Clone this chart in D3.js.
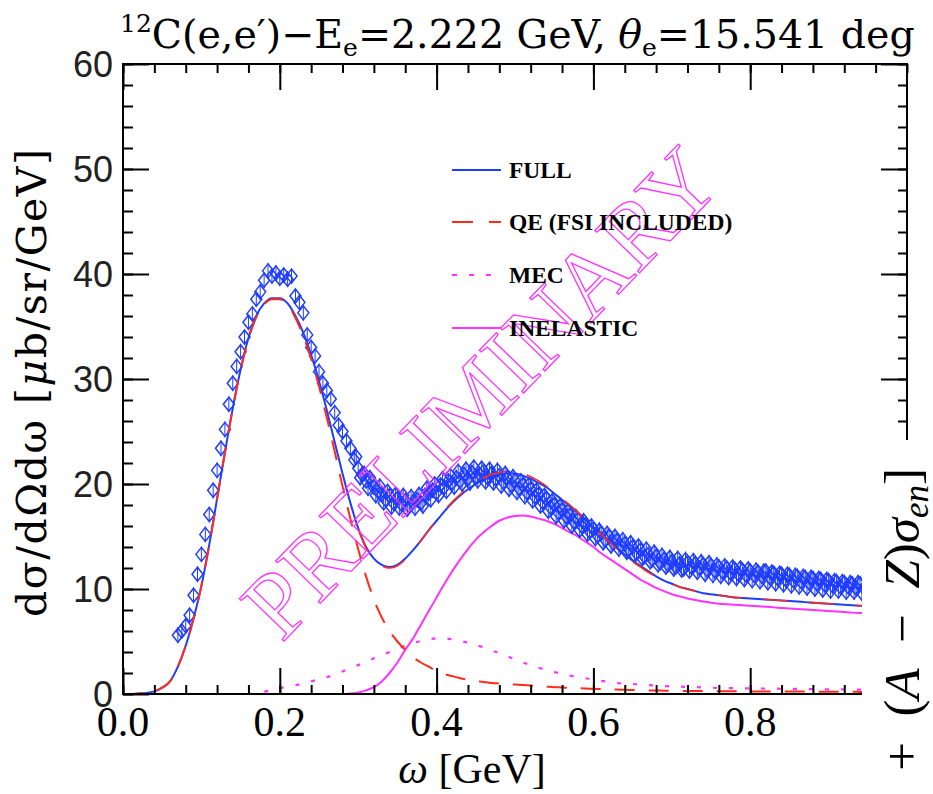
<!DOCTYPE html>
<html><head><meta charset="utf-8">
<script src="https://cdn.jsdelivr.net/npm/d3@7"></script>
<style>body{margin:0;background:#fff}svg{display:block}</style>
</head><body>
<svg id="c" width="933" height="794"></svg>
<script>
// ---- data ----
const curveOmega = d3.range(0, 96).map(i => +(i * 0.01).toFixed(2)); // 0.00..0.95 GeV grid of the theory curves
const fullCurve = [0,0,0.05,0.1,0.25,0.6,1.2,2.6,4.6,7.2,10.3,14.2,18.6,23.0,27.2,30.9,33.9,36.0,37.2,37.7,37.7,37.2,36.0,34.4,32.3,29.8,27.0,24.0,21.0,18.2,15.8,14.0,12.9,12.3,12.1,12.3,12.9,13.7,14.6,15.6,16.5,17.4,18.2,18.9,19.5,20.0,20.4,20.7,20.9,21.0,21.0,20.8,20.5,20.1,19.7,19.1,18.5,17.9,17.3,16.6,15.9,15.2,14.6,13.9,13.3,12.7,12.2,11.7,11.2,10.8,10.5,10.2,10.0,9.8,9.6,9.5,9.4,9.3,9.2,9.15,9.1,9.05,9.0,8.95,8.9,8.85,8.8,8.75,8.7,8.65,8.6,8.55,8.5,8.45,8.4,8.35];
const qeCurve = [0,0,0.05,0.1,0.25,0.6,1.2,2.6,4.6,7.2,10.3,14.2,18.6,23.0,27.2,30.9,33.8,35.9,37.1,37.6,37.6,37.1,35.8,34.1,31.9,29.3,26.3,23.1,19.8,16.7,13.8,11.2,9.0,7.3,6.0,5.0,4.2,3.5,3.0,2.6,2.2,1.9,1.7,1.5,1.35,1.25,1.15,1.05,1.0,0.95,0.9,0.85,0.8,0.75,0.7,0.65,0.62,0.58,0.55,0.52,0.5,0.47,0.44,0.42,0.4,0.38,0.36,0.34,0.33,0.32,0.31,0.3,0.29,0.28,0.28,0.27,0.27,0.26,0.26,0.25,0.25,0.25,0.24,0.24,0.24,0.23,0.23,0.23,0.22,0.22,0.22,0.21,0.21,0.21,0.2,0.2];
const mecCurve = [0,0,0,0,0,0,0,0,0,0,0,0,0,0,0,0,0,0.05,0.2,0.4,0.55,0.7,0.85,1.0,1.2,1.4,1.6,1.85,2.15,2.45,2.75,3.05,3.4,3.7,4.0,4.3,4.6,4.85,5.05,5.2,5.3,5.3,5.2,5.05,4.9,4.65,4.45,4.15,3.9,3.6,3.3,3.0,2.75,2.5,2.3,2.1,1.9,1.75,1.6,1.5,1.35,1.25,1.15,1.05,1.0,0.95,0.9,0.85,0.8,0.75,0.72,0.7,0.68,0.65,0.63,0.6,0.58,0.57,0.56,0.55,0.54,0.53,0.52,0.51,0.5,0.49,0.48,0.47,0.46,0.45,0.45,0.44,0.43,0.42,0.41,0.4];
const inelCurve = [0,0,0,0,0,0,0,0,0,0,0,0,0,0,0,0,0,0,0,0,0,0,0,0,0,0,0,0,0,0.05,0.15,0.35,0.65,1.2,2.0,3.0,4.2,5.3,6.6,7.9,9.2,10.5,11.7,12.8,13.8,14.7,15.4,16.0,16.5,16.8,16.95,17.0,16.9,16.7,16.5,16.2,15.8,15.4,15.0,14.5,14.0,13.4,12.9,12.4,11.9,11.4,10.9,10.5,10.1,9.8,9.5,9.3,9.1,8.95,8.8,8.7,8.6,8.55,8.5,8.45,8.4,8.35,8.3,8.25,8.2,8.15,8.1,8.05,8.0,7.95,7.9,7.85,7.8,7.75,7.72,7.7];
// second red dashed calculation lying on top of FULL (omega 0.30..0.95)
const altOmega = d3.range(30, 96).map(i => +(i * 0.01).toFixed(2));
const altCurve = [15.7,13.9,12.8,12.2,12.0,12.2,12.8,13.6,14.6,15.6,16.6,17.5,18.3,19.0,19.7,20.2,20.6,20.9,21.1,21.2,21.2,21.0,20.7,20.3,19.8,19.2,18.6,18.0,17.3,16.6,15.9,15.2,14.5,13.8,13.2,12.6,12.1,11.6,11.2,10.8,10.5,10.2,10.0,9.8,9.6,9.5,9.4,9.3,9.2,9.15,9.1,9.05,9.0,8.95,8.9,8.85,8.8,8.75,8.7,8.65,8.6,8.55,8.5,8.45,8.4,8.35];
// experimental points, omega = 0.070 + 0.005*i
const dataOmega = d3.range(0, 176).map(i => +(0.07 + i * 0.005).toFixed(3));
const dataValues = [5.6,6.0,6.5,7.5,9.4,11.4,13.3,15.2,17.1,19.4,21.3,23.4,25.2,27.6,29.6,31.2,32.6,34.0,35.4,36.2,37.6,38.3,39.4,40.3,39.8,40.1,39.6,39.9,39.5,39.8,37.9,37.3,36.3,34.2,33.0,32.2,30.7,29.6,28.9,28.1,26.8,25.6,25.0,24.1,23.4,22.3,21.5,20.9,20.3,20.6,19.7,19.3,19.0,18.5,18.9,18.2,18.6,18.1,18.4,17.9,18.3,18.5,18.2,18.9,19.1,19.4,19.2,19.9,19.7,20.3,20.1,20.6,20.3,20.9,20.5,21.1,20.7,20.9,21.2,20.6,21.0,20.5,20.8,20.2,20.6,19.9,20.3,19.6,19.9,19.2,19.5,18.8,19.0,18.3,18.6,17.8,18.0,17.3,17.5,16.9,17.0,16.4,16.6,16.0,16.1,15.5,15.7,15.1,15.3,14.7,15.0,14.4,14.6,14.1,14.3,13.8,14.0,13.4,13.7,13.1,13.3,12.8,13.1,12.5,12.8,12.3,12.6,12.1,12.4,11.9,12.5,12.1,12.4,12.0,12.3,11.8,12.2,11.7,12.1,11.6,12.0,11.5,11.9,11.4,11.8,11.3,11.7,11.3,11.6,11.2,11.7,11.1,11.5,11.0,11.4,10.9,11.3,10.8,11.2,10.7,11.1,10.6,11.0,10.5,10.9,10.4,10.8,10.3,10.7,10.2,10.6,10.2,10.5,10.1,10.5,10.1];
// interleaved points, omega = 0.2975 + 0.005*i
const data2Values = [22.6,20.6,21.0,19.6,20.2,18.9,19.8,18.2,19.3,17.8,19.0,17.7,18.9,17.6,18.8,17.7,19.0,17.9,19.6,18.5,20.0,18.9,20.5,19.3,20.8,19.7,21.2,20.0,21.4,20.1,21.6,20.3,21.5,20.2,21.4,20.1,21.3,19.8,21.0,19.5,20.7,19.2,20.3,18.8,19.9,18.4,19.4,17.9,18.9,17.4,18.4,16.9,17.9,16.5,17.4,16.0,16.9,15.6,16.5,15.2,16.0,14.8,15.6,14.4,15.3,14.1,15.0,13.8,14.7,13.5,14.4,13.2,14.1,12.9,13.8,12.6,13.5,12.3,13.2,12.1,13.0,11.9,12.9,11.8,12.8,11.7,12.7,11.6,12.6,11.4,12.5,11.3,12.3,11.2,12.2,11.1,12.1,11.0,12.0,10.9,11.9,10.8,11.8,10.7,11.7,10.6,11.6,10.5,11.5,10.4,11.4,10.3,11.3,10.2,11.2,10.1,11.1,10.0,11.0,9.9,10.9,9.8,10.8,9.8,10.7,9.7,10.6,9.7,10.6,9.6];
const data2Omega = data2Values.map((v, i) => +(0.2975 + i * 0.005).toFixed(4));
const xMajorTicks = [0, 0.2, 0.4, 0.6, 0.8];
const xTickLabels = ["0.0", "0.2", "0.4", "0.6", "0.8"];
const yMajorTicks = [0, 10, 20, 30, 40, 50, 60];
const yTickLabels = ["0", "10", "20", "30", "40", "50", "60"];
const legendLabels = ["FULL", "QE (FSI INCLUDED)", "MEC", "INELASTIC"];

// ---- drawing ----
const svg = d3.select("#c");
const L = 123, R = 907, T = 64, B = 694;
const x = d3.scaleLinear().domain([0, 1]).range([L, R]);
const y = d3.scaleLinear().domain([0, 60]).range([B, T]);
const BLUE = "#1f3dff", RED = "#ff2a1a", MAG = "#ff33ff";

// curves
const line = d3.line().x(d => x(d[0])).y(d => y(d[1])).curve(d3.curveMonotoneX);
const zip = (a, b) => a.map((v, i) => [v, b[i]]);
svg.append("path").attr("d", line(zip(curveOmega, inelCurve))).attr("fill", "none").attr("stroke", MAG).attr("stroke-width", 2);
svg.append("path").attr("d", line(zip(curveOmega, mecCurve).filter(d => d[0] >= 0.16))).attr("fill", "none").attr("stroke", MAG).attr("stroke-width", 2.2).attr("stroke-dasharray", "4,12");

// data points: open diamonds with small error bars
const pts = svg.append("g").attr("stroke", BLUE).attr("fill", "none").attr("stroke-width", 1.5);
zip(dataOmega, dataValues).concat(zip(data2Omega, data2Values)).forEach(d => {
  const cx = x(d[0]), cy = y(d[1]);
  pts.append("path").attr("d", `M${cx-5.5},${cy}L${cx},${cy-7}L${cx+5.5},${cy}L${cx},${cy+7}Z`);
  pts.append("path").attr("d", `M${cx},${cy-8}V${cy+8}`).attr("stroke-width", 1);
});

svg.append("path").attr("d", line(zip(curveOmega, fullCurve))).attr("fill", "none").attr("stroke", BLUE).attr("stroke-width", 2);
svg.append("path").attr("d", line(zip(curveOmega, qeCurve))).attr("fill", "none").attr("stroke", RED).attr("stroke-width", 2).attr("stroke-dasharray", "20,14");
svg.append("path").attr("d", line(zip(altOmega, altCurve))).attr("fill", "none").attr("stroke", RED).attr("stroke-width", 1.6).attr("stroke-dasharray", "24,22");

// PRELIMINARY watermark
svg.append("text").attr("transform", "translate(480,392) rotate(-46)")
  .attr("text-anchor", "middle").attr("dominant-baseline", "central")
  .attr("font-family", "Liberation Serif").attr("font-size", 94)
  .attr("fill", "none").attr("stroke", MAG).attr("stroke-width", 1.3)
  .text("PRELIMINARY");

// frame
svg.append("rect").attr("x", L).attr("y", T).attr("width", R - L).attr("height", B - T)
  .attr("fill", "none").attr("stroke", "#000").attr("stroke-width", 2);

function ticks(axisFn, scale, values, size, transform) {
  const g = svg.append("g").attr("transform", transform)
    .call(axisFn(scale).tickValues(values).tickSize(size).tickFormat(""));
  g.select(".domain").remove();
  g.selectAll(".tick line").attr("stroke", "#000").attr("stroke-width", 2);
  return g;
}
const xMinor = d3.range(0, 26).map(i => i * 0.04);
const yMinor = d3.range(0, 31).map(i => i * 2);
ticks(d3.axisBottom, x, xMinor, -9, `translate(0,${B})`);
ticks(d3.axisBottom, x, xMajorTicks, -26, `translate(0,${B})`);
ticks(d3.axisTop, x, xMinor, -9, `translate(0,${T})`);
ticks(d3.axisTop, x, xMajorTicks, -26, `translate(0,${T})`);
ticks(d3.axisLeft, y, yMinor, -10, `translate(${L},0)`);
ticks(d3.axisLeft, y, yMajorTicks, -26, `translate(${L},0)`);
ticks(d3.axisRight, y, yMinor, -9, `translate(${R},0)`);
ticks(d3.axisRight, y, yMajorTicks, -26, `translate(${R},0)`);

// tick labels
svg.append("g").selectAll("text").data(xMajorTicks).join("text")
  .attr("x", d => x(d)).attr("y", 736).attr("text-anchor", "middle")
  .attr("font-family", "Liberation Serif").attr("font-size", 42)
  .text((d, i) => xTickLabels[i]);
svg.append("g").selectAll("text").data(yMajorTicks).join("text")
  .attr("x", 113).attr("y", d => y(d) + 13).attr("text-anchor", "end")
  .attr("font-family", "Liberation Sans").attr("font-size", 36).attr("fill", "#222")
  .text((d, i) => yTickLabels[i]);

// axis titles
svg.append("text").attr("x", 472).attr("y", 783).attr("text-anchor", "middle")
  .attr("font-family", "Liberation Serif").attr("font-size", 42)
  .html('<tspan font-style="italic">ω</tspan> [GeV]');
svg.append("text").attr("transform", "translate(46,383) rotate(-90)").attr("text-anchor", "middle")
  .attr("font-family", "DejaVu Serif").attr("font-size", 41)
  .attr("textLength", 468).attr("lengthAdjust", "spacing")
  .html('dσ/dΩdω [<tspan font-style="italic">μ</tspan>b/sr/GeV]');

// title
svg.append("text").attr("x", 120).attr("y", 48).attr("font-family", "DejaVu Serif").attr("font-size", 39.5)
  .attr("xml:space", "preserve")
  .html('<tspan font-size="25" dy="-16">12</tspan><tspan dy="16">C(e,e′)−E</tspan><tspan font-size="25" dy="8">e</tspan><tspan dy="-8">=2.222 GeV, </tspan><tspan font-style="italic">θ</tspan><tspan font-size="25" dy="8">e</tspan><tspan dy="-8">=15.541 deg</tspan>');

// legend
const legStyles = [
  {stroke: BLUE, dash: null, w: 2},
  {stroke: RED, dash: "21,16", w: 2},
  {stroke: MAG, dash: "5,12", w: 2.2},
  {stroke: MAG, dash: null, w: 2}
];
const legY = [170, 222, 275, 328];
legendLabels.forEach((lab, i) => {
  svg.append("line").attr("x1", 452).attr("x2", 501).attr("y1", legY[i]).attr("y2", legY[i])
    .attr("stroke", legStyles[i].stroke).attr("stroke-width", legStyles[i].w)
    .attr("stroke-dasharray", legStyles[i].dash);
  svg.append("text").attr("x", 509).attr("y", legY[i] + 8).attr("font-family", "Liberation Serif")
    .attr("font-weight", "bold").attr("font-size", 23.5).text(lab);
});

// cropped right-hand strip with part of a formula
svg.append("rect").attr("x", 862).attr("y", 440).attr("width", 71).attr("height", 354).attr("fill", "#fff");
svg.append("text").attr("transform", "translate(919,468) rotate(-90)").attr("text-anchor", "end")
  .attr("font-family", "Liberation Serif").attr("font-size", 51).attr("xml:space", "preserve")
  .html('<tspan font-style="italic">σ</tspan><tspan font-style="italic" font-size="35" dy="9">ep</tspan><tspan dy="-9">  +  (</tspan><tspan font-style="italic">A</tspan>  −  <tspan font-style="italic">Z</tspan>)<tspan font-style="italic">σ</tspan><tspan font-style="italic" font-size="35" dy="9">en</tspan><tspan dy="-9">]</tspan>');
</script>
</body></html>
